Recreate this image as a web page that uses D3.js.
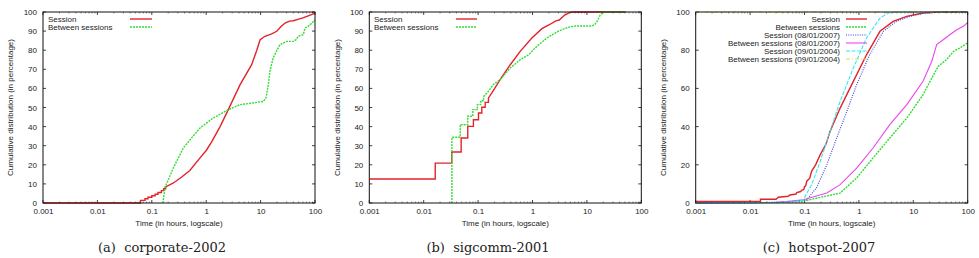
<!DOCTYPE html>
<html>
<head>
<meta charset="utf-8">
<script src="https://cdn.jsdelivr.net/npm/d3@7"></script>
<style>
body { margin:0; background:#fff; }
svg text { font-family: "Liberation Sans", Arial, sans-serif; fill:#222; }
.caption { font-family: "DejaVu Serif", serif; font-size:13px; }
</style>
</head>
<body>
<div id="chart"></div>
<script>
var xTicks = [0.001, 0.01, 0.1, 1, 10, 100];
var xTickLabels = ["0.001", "0.01", "0.1", "1", "10", "100"];
var yTicksAB = [0, 10, 20, 30, 40, 50, 60, 70, 80, 90, 100];
var yTicksC = [0, 20, 40, 60, 80, 100];

var captions = ["(a)\u00a0 corporate-2002", "(b)\u00a0 sigcomm-2001", "(c)\u00a0 hotspot-2007"];
var xTitle = "Time (in hours, logscale)";
var yTitle = "Cumulative distribution (in percentage)";

// corporate-2002
var corpSession = [[0.001,0],[0.062,0],[0.062,1.4],[0.075,1.4],[0.075,2.2],[0.085,2.2],[0.085,3],[0.1,3],[0.1,3.8],[0.115,3.8],[0.115,4.6],[0.13,4.6],[0.13,5.5],[0.15,5.5],[0.15,6.5],[0.165,6.5],[0.165,7.5],[0.18,7.5],[0.18,8.4],[0.25,10.5],[0.35,13.5],[0.5,17],[0.77,23.6],[1.0,27.5],[1.26,32],[1.8,40],[2.55,48.9],[4.2,62],[6.85,72.4],[8.5,80],[9.8,85.5],[12,87.3],[16,88.5],[19.8,89.9],[24,92.5],[28.2,94.2],[34,95.2],[40,95.4],[50,96.3],[60,96.9],[75,98],[93,99],[100,99.3]];
var corpBetween = [[0.16,0],[0.162,1.2],[0.165,3],[0.17,5.5],[0.175,8.4],[0.2,12],[0.248,18.3],[0.3,23],[0.38,28.8],[0.5,33],[0.77,39.3],[1.35,44.5],[2.55,48.9],[4.2,51.5],[7.3,52.4],[11.2,53.2],[12.5,55],[12.9,56.7],[14,63],[14.8,69],[17,75.9],[20,80],[22.7,82.9],[30,84.6],[40,84.6],[45,85.5],[49.3,87.3],[55,87.8],[61,88.1],[65.5,91.6],[75,92.5],[81,93.4],[90,94.5],[100,96]];

// sigcomm-2001
var sigSession = [[0.001,12.6],[0.0163,12.6],[0.0163,20.9],[0.0328,20.9],[0.0328,26.7],[0.0488,26.7],[0.0488,34],[0.0646,34],[0.0646,40.1],[0.082,40.1],[0.082,43.6],[0.1016,43.6],[0.1016,47.1],[0.117,47.1],[0.117,50.1],[0.135,50.1],[0.135,52.7],[0.155,52.7],[0.155,55],[0.179,57.6],[0.254,64.6],[0.39,72.4],[0.593,79.4],[0.973,86.4],[1.49,91.3],[2.0,93.2],[2.69,95.4],[3.1,95.8],[3.9,98.4],[4.9,99.8],[5.5,100],[50,100]];
var sigBetween = [[0.033,0],[0.033,34.4],[0.047,34.4],[0.047,41],[0.0646,41],[0.0646,45.4],[0.08,45.4],[0.08,48.9],[0.097,48.9],[0.097,51.5],[0.112,51.5],[0.112,53.5],[0.126,53.5],[0.126,55.8],[0.155,58.5],[0.19,62],[0.254,64.6],[0.39,70.7],[0.593,75],[0.845,77.6],[1.2,82],[1.84,86.4],[3.0,90],[4.5,92],[6.1,92.7],[12.4,92.7],[14,93.5],[15.3,94.9],[17.6,98.4],[20.3,99.8],[22,100],[54,100]];

// hotspot-2007
var hotSession = [[0.001,0.8],[0.0155,0.8],[0.0155,2],[0.03,2],[0.033,3],[0.05,3.5],[0.054,4.2],[0.07,4.7],[0.072,5.5],[0.085,6],[0.089,6.8],[0.097,7],[0.1,8.5],[0.105,9],[0.11,11.4],[0.125,13],[0.135,16.6],[0.16,20],[0.195,25.3],[0.25,31],[0.295,37.5],[0.452,49.7],[0.79,63.7],[1.38,77.6],[2.44,89.9],[4.27,95.1],[7.55,97.7],[15,99.5],[30,100],[100,100]];
var hotBetween = [[0.001,0],[0.03,0.2],[0.095,1],[0.452,5.2],[0.91,13.1],[1.82,23.6],[3.7,34],[7.6,44.5],[15.1,56.7],[21.9,65.4],[28.8,71.6],[40.7,75],[55,79.4],[72,81.2],[100,83.8]];
var hotSession2007 = [[0.001,0],[0.02,0.3],[0.06,0.8],[0.11,1.7],[0.166,7.9],[0.257,20],[0.39,34],[0.6,48],[0.91,62],[1.58,77.6],[2.82,89.9],[4.9,95.1],[8.7,97.7],[17,99.5],[35,100],[100,100]];
var hotBetween2007 = [[0.001,0],[0.03,0.3],[0.095,1.7],[0.257,5.2],[0.452,9.6],[0.91,18.3],[1.82,28.8],[3.7,41],[7.6,51.5],[15.1,63.7],[21.9,74.2],[26.9,82.9],[35.5,85.5],[46.8,88.1],[63,90.7],[83,92.5],[100,94.5]];
var hotSession2004 = [[0.001,0],[0.03,0.3],[0.06,0.6],[0.08,1],[0.095,1.7],[0.135,9.6],[0.195,21.8],[0.295,37.5],[0.452,53.2],[0.79,70.7],[1.38,86.4],[2.45,96.9],[3.5,99.5],[5,100],[100,100]];
var hotBetween2004 = [[0.001,100],[100,100]];

var styles = {
  red:    {color:"#e3232a", width:1.4, dash:null},
  green:  {color:"#33dd33", width:1.4, dash:"2,1"},
  blue:   {color:"#3344dd", width:1.1, dash:"1,1.3"},
  magenta:{color:"#ee44ee", width:1.1, dash:null},
  cyan:   {color:"#33e8ee", width:1.1, dash:"4,1.5"},
  yellow: {color:"#dddd44", width:1.1, dash:"4,2,1,2"}
};

var panels = [
  {left:43, top:12, yTicks:yTicksAB, legendRight:false, legendX:48, lineX:[130,152], titleX:10, capX:162,
   series:[{name:"Session", d:corpSession, s:"red"}, {name:"Between sessions", d:corpBetween, s:"green"}]},
  {left:369.3, top:12, yTicks:yTicksAB, legendRight:false, legendX:374, lineX:[456,477], titleX:337, capX:488,
   series:[{name:"Session", d:sigSession, s:"red"}, {name:"Between sessions", d:sigBetween, s:"green"}]},
  {left:695.7, top:12, yTicks:yTicksC, legendRight:true, legendX:840, lineX:[846,867], titleX:663, capX:819,
   series:[{name:"Session", d:hotSession, s:"red"}, {name:"Between sessions", d:hotBetween, s:"green"},
           {name:"Session (08/01/2007)", d:hotSession2007, s:"blue"}, {name:"Between sessions (08/01/2007)", d:hotBetween2007, s:"magenta"},
           {name:"Session (09/01/2004)", d:hotSession2004, s:"cyan"}, {name:"Between sessions (09/01/2004)", d:hotBetween2004, s:"yellow"}]}
];

var w = 979, h = 258;
var pw = 272, ph = 191;

var svg = d3.select("#chart").append("svg")
  .attr("width", w).attr("height", h);

panels.forEach(function(p, i) {
  var x = d3.scaleLog().domain([0.001, 100]).range([0, pw]);
  var y = d3.scaleLinear().domain([0, 100]).range([ph, 0]);
  var g = svg.append("g").attr("transform", "translate(" + p.left + "," + p.top + ")");

  var clipId = "clip" + i;
  g.append("clipPath").attr("id", clipId).append("rect")
    .attr("x", -1).attr("y", -1).attr("width", pw + 2).attr("height", ph + 2);

  // minor log ticks
  var minor = [];
  xTicks.slice(0, -1).forEach(function(t) {
    for (var k = 2; k < 10; k++) minor.push(t * k);
  });
  var tk = g.append("g").attr("stroke", "#111").attr("stroke-width", 0.8);
  minor.forEach(function(t) {
    tk.append("line").attr("x1", x(t)).attr("x2", x(t)).attr("y1", ph).attr("y2", ph - 1.5).attr("stroke-opacity", 0.6);
    tk.append("line").attr("x1", x(t)).attr("x2", x(t)).attr("y1", 0).attr("y2", 1.5).attr("stroke-opacity", 0.6);
  });
  xTicks.forEach(function(t) {
    tk.append("line").attr("x1", x(t)).attr("x2", x(t)).attr("y1", ph).attr("y2", ph - 3);
    tk.append("line").attr("x1", x(t)).attr("x2", x(t)).attr("y1", 0).attr("y2", 3);
  });
  p.yTicks.forEach(function(t) {
    tk.append("line").attr("x1", 0).attr("x2", 3).attr("y1", y(t)).attr("y2", y(t));
    tk.append("line").attr("x1", pw).attr("x2", pw - 3).attr("y1", y(t)).attr("y2", y(t));
  });

  // tick labels through d3 axes, no tick lines
  var xAxis = d3.axisBottom(x).tickValues(xTicks).tickSize(0).tickPadding(5)
    .tickFormat(function(d, j) { return xTickLabels[j]; });
  var gx = g.append("g").attr("transform", "translate(0," + ph + ")").call(xAxis);
  var yAxis = d3.axisLeft(y).tickValues(p.yTicks).tickSize(0).tickPadding(6);
  var gy = g.append("g").call(yAxis);
  [gx, gy].forEach(function(a) {
    a.select(".domain").remove();
    a.selectAll("text").attr("font-size", 8).attr("font-family", "Liberation Sans, Arial, sans-serif").attr("fill", "#222");
  });

  var line = d3.line().x(function(d) { return x(d[0]); }).y(function(d) { return y(d[1]); });
  var lines = g.append("g").attr("clip-path", "url(#" + clipId + ")");
  p.series.forEach(function(s) {
    var st = styles[s.s];
    lines.append("path").datum(s.d)
      .attr("d", line)
      .attr("fill", "none")
      .attr("stroke", st.color)
      .attr("stroke-width", st.width)
      .attr("stroke-dasharray", st.dash);
  });

  g.append("rect").attr("width", pw).attr("height", ph)
    .attr("fill", "none").attr("stroke", "#111").attr("stroke-width", 1);

  // legend
  var lg = svg.append("g");
  p.series.forEach(function(s, j) {
    var st = styles[s.s];
    var ly = 19 + j * 8;
    lg.append("text").attr("x", p.legendX).attr("y", ly + 3)
      .attr("font-size", 8)
      .attr("text-anchor", p.legendRight ? "end" : "start")
      .text(s.name);
    lg.append("line").attr("x1", p.lineX[0]).attr("x2", p.lineX[1]).attr("y1", ly).attr("y2", ly)
      .attr("stroke", st.color).attr("stroke-width", st.width).attr("stroke-dasharray", st.dash);
  });

  svg.append("text")
    .attr("transform", "translate(" + p.titleX + "," + (p.top + ph / 2) + ") rotate(-90)")
    .attr("text-anchor", "middle").attr("dy", "0.35em")
    .attr("font-size", 8)
    .text(yTitle);

  svg.append("text")
    .attr("x", p.left + pw / 2).attr("y", 226)
    .attr("text-anchor", "middle").attr("font-size", 8)
    .text(xTitle);

  svg.append("text").attr("class", "caption")
    .attr("x", p.capX).attr("y", 252)
    .attr("text-anchor", "middle")
    .text(captions[i]);
});
</script>
</body>
</html>
